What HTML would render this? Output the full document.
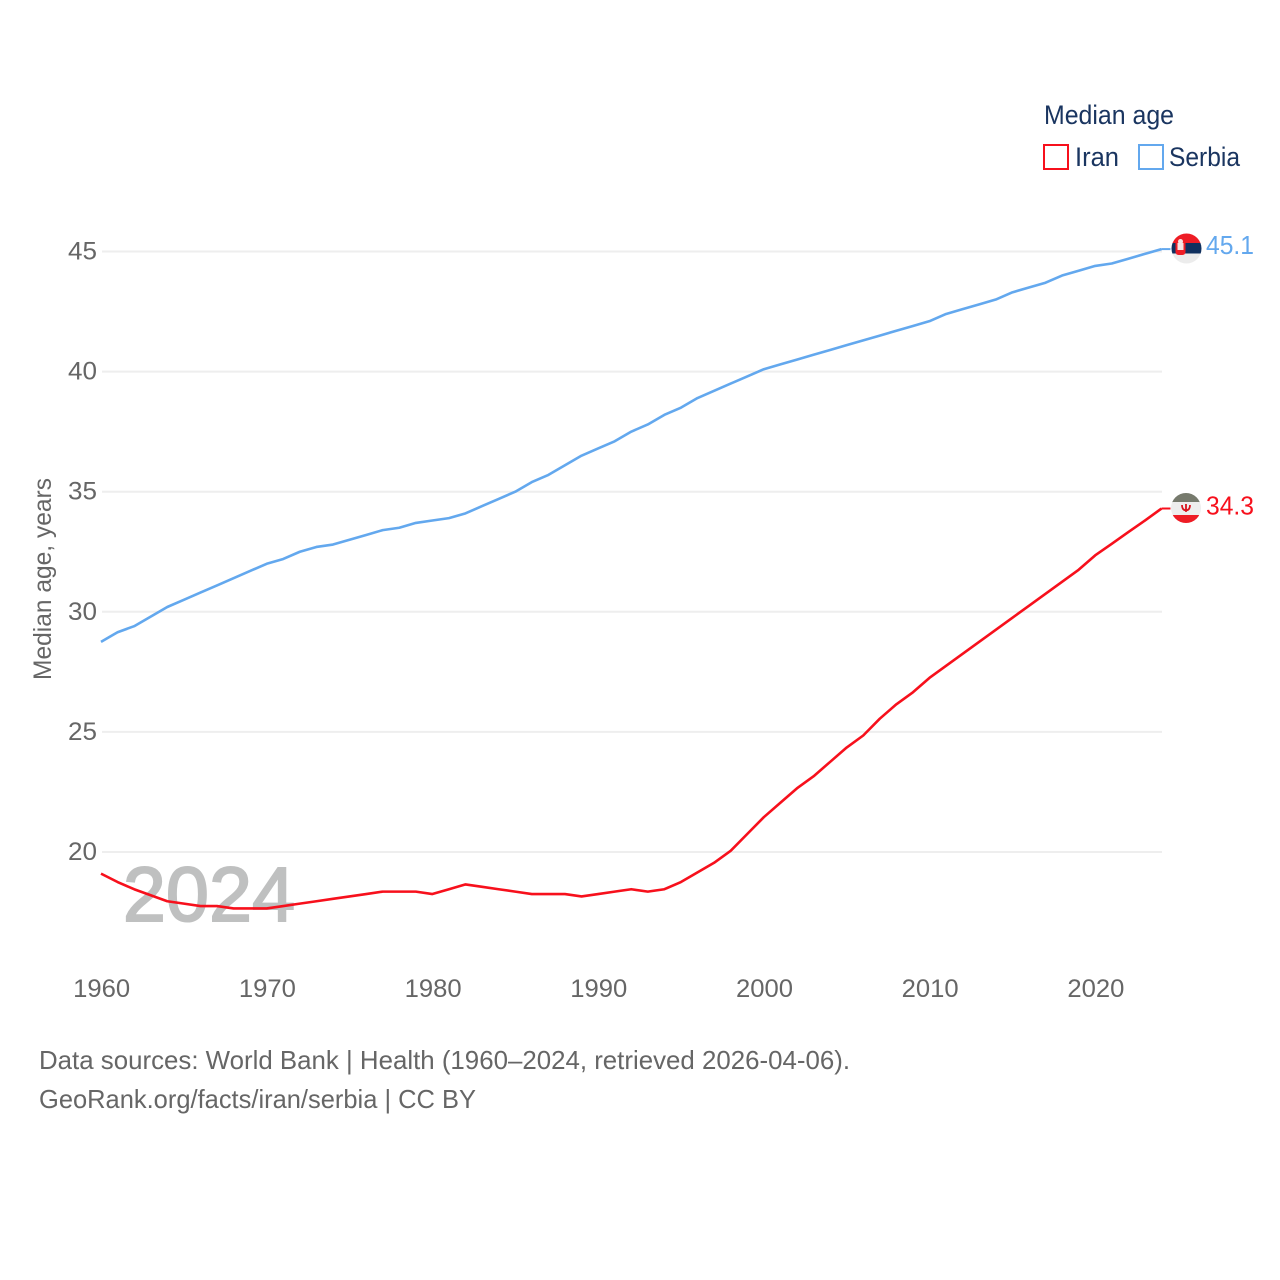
<!DOCTYPE html>
<html lang="en">
<head>
<meta charset="utf-8">
<title>Median age: Iran and Serbia</title>
<style>
html,body{margin:0;padding:0;background:#fff;width:1280px;height:1280px;overflow:hidden}
svg{display:block}
text{font-family:"Liberation Sans",sans-serif}
</style>
</head>
<body>
<svg id="chart" xmlns="http://www.w3.org/2000/svg" width="1280" height="1280" viewBox="0 0 1280 1280">
  <rect width="1280" height="1280" fill="#fff"/>
  <g id="grid"></g>
  <text x="123" y="921" font-size="77" font-weight="400" fill="#bfc0c0" stroke="#bfc0c0" stroke-width="2" textLength="172" lengthAdjust="spacing">2024</text>
  <g id="y-ticks"></g>
  <g id="x-ticks"></g>
  <text transform="translate(51,680) rotate(-90)" font-size="25" fill="#666" textLength="202" lengthAdjust="spacingAndGlyphs">Median age, years</text>
  <g id="series"></g>

  <g>
    <text x="1044" y="124" font-size="27" fill="#1a3560" textLength="130" lengthAdjust="spacingAndGlyphs">Median age</text>
    <g>
      <rect x="1044" y="145" width="24" height="24" fill="#fff" stroke="#f7101c" stroke-width="2"/>
      <text x="1075" y="166" font-size="27" fill="#1a3560" textLength="44" lengthAdjust="spacingAndGlyphs">Iran</text>
    </g>
    <g>
      <rect x="1139" y="145" width="24" height="24" fill="#fff" stroke="#63a8ee" stroke-width="2"/>
      <text x="1169" y="166" font-size="27" fill="#1a3560" textLength="71" lengthAdjust="spacingAndGlyphs">Serbia</text>
    </g>
  </g>

  <defs>
    <clipPath id="clip-serbia"><circle cx="1186.5" cy="248.5" r="15"/></clipPath>
    <clipPath id="clip-iran"><circle cx="1186" cy="508" r="15"/></clipPath>
  </defs>
  <g clip-path="url(#clip-serbia)">
    <rect x="1170" y="233" width="33" height="10.500" fill="#ee1c25"/>
    <rect x="1170" y="243" width="33" height="11" fill="#10305f"/>
    <rect x="1170" y="253.500" width="33" height="11" fill="#ececec"/>
    <rect x="1175.500" y="239" width="10" height="16" rx="3" fill="#ee1c25"/>
    <rect x="1177.500" y="243" width="6" height="7" fill="#f4e4e4"/>
    <circle cx="1180.500" cy="241.500" r="2.500" fill="#f4e4e4"/>
  </g>
  <g clip-path="url(#clip-iran)">
    <rect x="1170" y="492" width="33" height="10.500" fill="#767a6d"/>
    <rect x="1170" y="502" width="33" height="14" fill="#eeeeee"/>
    <rect x="1170" y="515" width="33" height="9" fill="#ee1c25"/>
    <path d="M1182 505q0 5 4 5.500q4-.5 4-5.500M1186 504v8" fill="none" stroke="#d8141e" stroke-width="1.800"/>
  </g>
  <g id="end-labels"></g>

  <text x="39" y="1069" font-size="26" fill="#666" textLength="811" lengthAdjust="spacingAndGlyphs">Data sources: World Bank | Health (1960–2024, retrieved 2026-04-06).</text>
  <text x="39" y="1108" font-size="26" fill="#666" textLength="437" lengthAdjust="spacingAndGlyphs">GeoRank.org/facts/iran/serbia | CC BY</text>
</svg>
<script>
const years = [1960,1961,1962,1963,1964,1965,1966,1967,1968,1969,1970,1971,1972,1973,1974,1975,1976,1977,1978,1979,1980,1981,1982,1983,1984,1985,1986,1987,1988,1989,1990,1991,1992,1993,1994,1995,1996,1997,1998,1999,2000,2001,2002,2003,2004,2005,2006,2007,2008,2009,2010,2011,2012,2013,2014,2015,2016,2017,2018,2019,2020,2021,2022,2023,2024];
const iranValues = [19.1,18.75,18.45,18.2,17.95,17.85,17.75,17.75,17.65,17.65,17.65,17.75,17.85,17.95,18.05,18.15,18.25,18.35,18.35,18.35,18.25,18.45,18.65,18.55,18.45,18.35,18.25,18.25,18.25,18.15,18.25,18.35,18.45,18.35,18.45,18.75,19.15,19.55,20.05,20.75,21.45,22.05,22.65,23.15,23.75,24.35,24.85,25.55,26.15,26.65,27.25,27.75,28.25,28.75,29.25,29.75,30.25,30.75,31.25,31.75,32.35,32.83,33.32,33.8,34.3];
const serbiaValues = [28.75,29.15,29.4,29.8,30.2,30.5,30.8,31.1,31.4,31.7,32.0,32.2,32.5,32.7,32.8,33.0,33.2,33.4,33.5,33.7,33.8,33.9,34.1,34.4,34.7,35.0,35.4,35.7,36.1,36.5,36.8,37.1,37.5,37.8,38.2,38.5,38.9,39.2,39.5,39.8,40.1,40.3,40.5,40.7,40.9,41.1,41.3,41.5,41.7,41.9,42.1,42.4,42.6,42.8,43.0,43.3,43.5,43.7,44.0,44.2,44.4,44.5,44.7,44.9,45.1];
const yTickValues = [20,25,30,35,40,45];
const xTickValues = [1960,1970,1980,1990,2000,2010,2020];

const NS = 'http://www.w3.org/2000/svg';
const xScale = function (year) { return 101 + (year - 1960) * 16.57; };
const yScale = function (value) { return 852 - (value - 20) * 24.02; };
const svgEl = function (tag, attrs, parent) {
  const el = document.createElementNS(NS, tag);
  Object.keys(attrs).forEach(function (k) { el.setAttribute(k, attrs[k]); });
  parent.appendChild(el);
  return el;
};

const gridGroup = document.getElementById('grid');
const yTickGroup = document.getElementById('y-ticks');
yTickValues.forEach(function (v) {
  const line = svgEl('line', {x1: 102, x2: 1162, y1: yScale(v), y2: yScale(v), stroke: '#eeeeee', 'stroke-width': 2}, gridGroup);
  
  
  const label = svgEl('text', {x: 68, y: yScale(v) + 8, 'font-size': 25, fill: '#666', textLength: 29, lengthAdjust: 'spacingAndGlyphs'}, yTickGroup);
  
  
  label.textContent = String(v);
});

const xTickGroup = document.getElementById('x-ticks');
xTickValues.forEach(function (year) {
  const label = svgEl('text', {x: xScale(year) - 27.8, y: 997, 'font-size': 25, fill: '#666', textLength: 57, lengthAdjust: 'spacingAndGlyphs'}, xTickGroup);
  
  
  label.textContent = String(year);
});

const seriesGroup = document.getElementById('series');
const labelGroup = document.getElementById('end-labels');
const drawSeries = function (values, color, labelOffset, lineName, connectorName, valueName) {
  const pts = values.map(function (v, i) { return xScale(years[i]).toFixed(2) + ',' + yScale(v).toFixed(2); }).join(' ');
  const line = svgEl('polyline', {points: pts, fill: 'none', stroke: color, 'stroke-width': 2.6, 'stroke-linejoin': 'round'}, seriesGroup);
  
  
  const last = values[values.length - 1];
  const lastX = xScale(years[years.length - 1]);
  const connector = svgEl('line', {x1: lastX, x2: lastX + 9, y1: yScale(last), y2: yScale(last), stroke: color, 'stroke-width': 2}, seriesGroup);
  
  
  const label = svgEl('text', {x: 1206, y: yScale(last) + labelOffset, 'font-size': 26, fill: color, textLength: 48, lengthAdjust: 'spacingAndGlyphs'}, labelGroup);
  
  
  label.textContent = last.toFixed(1);
};
drawSeries(serbiaValues, '#63a8ee', 5, 'serbia-line', 'serbia-connector', 'serbia-end-value');
drawSeries(iranValues, '#f7101c', 6, 'iran-line', 'iran-connector', 'iran-end-value');
</script>
</body>
</html>
